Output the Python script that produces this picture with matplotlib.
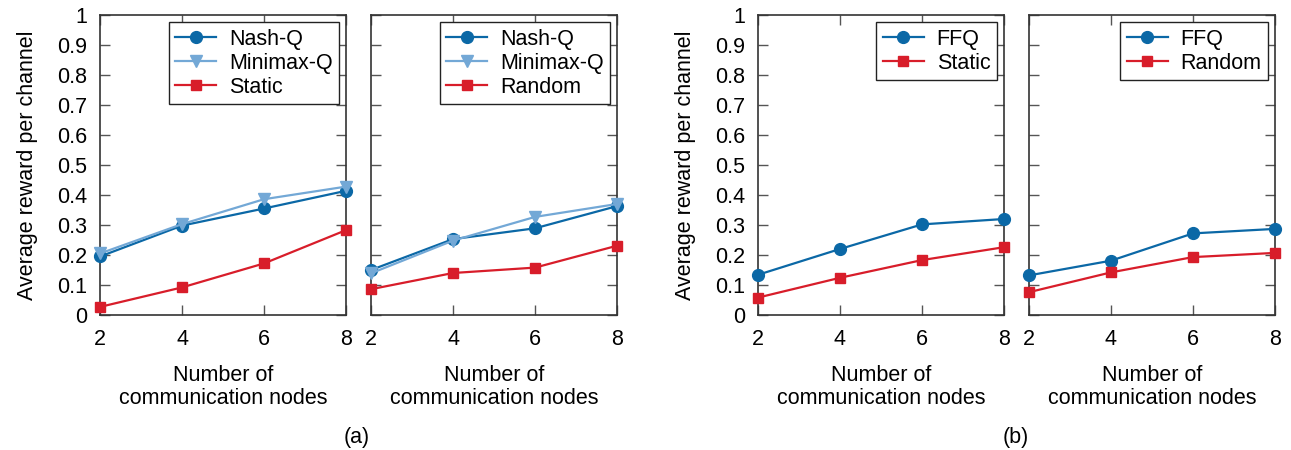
import matplotlib.pyplot as plt

plt.rcParams["font.family"] = ["Liberation Sans", "DejaVu Sans"]

# --- Data: average reward per channel vs. number of nodes ---
nodes = [2, 4, 6, 8]

nash_static_env = [0.195, 0.298, 0.355, 0.414]
minimax_static_env = [0.205, 0.303, 0.386, 0.428]
static_a = [0.027, 0.092, 0.172, 0.283]

nash_random_env = [0.150, 0.253, 0.289, 0.363]
minimax_random_env = [0.139, 0.248, 0.327, 0.370]
random_a = [0.086, 0.140, 0.158, 0.231]

ffq_static_env = [0.134, 0.220, 0.302, 0.320]
static_b = [0.058, 0.124, 0.183, 0.226]

ffq_random_env = [0.132, 0.181, 0.272, 0.287]
random_b = [0.076, 0.142, 0.193, 0.207]

yticks = [0, 0.1, 0.2, 0.3, 0.4, 0.5, 0.6, 0.7, 0.8, 0.9, 1]
ytick_labels = ["0", "0.1", "0.2", "0.3", "0.4", "0.5", "0.6", "0.7", "0.8", "0.9", "1"]

DARK_BLUE = "#0b68a6"
LIGHT_BLUE = "#73a8d6"
RED = "#d81d2a"
FS = 15.5

fig = plt.figure(figsize=(12.91, 4.5), dpi=100)

lefts = [0.0775, 0.2874, 0.5871, 0.797]
axes = [fig.add_axes([l, 0.30, 0.1906, 0.6667]) for l in lefts]

panels = [
    [("Nash-Q", nash_static_env, DARK_BLUE, "o", 8.5),
     ("Minimax-Q", minimax_static_env, LIGHT_BLUE, "v", 9),
     ("Static", static_a, RED, "s", 7.5)],
    [("Nash-Q", nash_random_env, DARK_BLUE, "o", 8.5),
     ("Minimax-Q", minimax_random_env, LIGHT_BLUE, "v", 9),
     ("Random", random_a, RED, "s", 7.5)],
    [("FFQ", ffq_static_env, DARK_BLUE, "o", 8.5),
     ("Static", static_b, RED, "s", 7.5)],
    [("FFQ", ffq_random_env, DARK_BLUE, "o", 8.5),
     ("Random", random_b, RED, "s", 7.5)],
]

for i, (ax, series) in enumerate(zip(axes, panels)):
    for label, vals, color, marker, ms in series:
        ax.plot(nodes, vals, color=color, marker=marker, markersize=ms,
                linewidth=1.6, label=label, clip_on=False, zorder=3)

    ax.set_xlim(2, 8)
    ax.set_ylim(0, 1)
    ax.set_xticks(nodes)
    ax.set_yticks(yticks)
    ax.tick_params(direction="in", top=True, right=True, length=7,
                   width=1, color="#555555", labelsize=FS, pad=9)
    ax.tick_params(axis="x", pad=10)
    for spine in ax.spines.values():
        spine.set_color("#333333")
        spine.set_linewidth(1.2)

    if i % 2 == 0:
        ax.set_yticklabels(ytick_labels)
        ax.set_ylabel("Average reward per channel", fontsize=FS, labelpad=14)
    else:
        ax.set_yticklabels([])

    ax.set_xlabel("Number of\ncommunication nodes", fontsize=FS, labelpad=11,
                  linespacing=1.1)

    leg = ax.legend(loc="upper right", fontsize=FS, fancybox=False,
                    framealpha=1, edgecolor="#222222", borderpad=0.3,
                    handlelength=1.9, labelspacing=0.15, handletextpad=0.6,
                    borderaxespad=0.33)
    leg.get_frame().set_linewidth(1.0)

fig.text(0.2765, 0.015, "(a)", fontsize=FS, ha="center")
fig.text(0.787, 0.015, "(b)", fontsize=FS, ha="center")

fig.savefig("out.png", dpi=100)
